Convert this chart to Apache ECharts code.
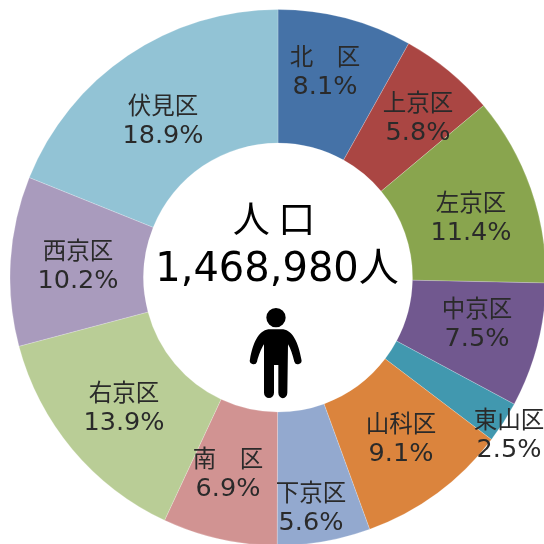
<!DOCTYPE html>
<html><head><meta charset="utf-8">
<style>html,body{margin:0;padding:0;background:#fff}#c{width:544px;height:544px}</style>
<script src="https://cdn.jsdelivr.net/npm/echarts@6/dist/echarts.min.js"></script>
</head><body><div id="c"></div>
<script>
const wards = ['北　区','上京区','左京区','中京区','東山区','山科区','下京区','南　区','右京区','西京区','伏見区'];
const shares = [8.1,5.8,11.4,7.5,2.5,9.1,5.6,6.9,13.9,10.2,18.9];
const colours = ['#4572A7','#AA4643','#89A54E','#71588F','#4198AF','#DB843D','#93A9CF','#D19392','#B9CD96','#A99BBD','#92C3D5'];
const labelCentres = [[325,72],[418,118],[471,218],[477,324],[509,435],[401,439],[311,508],[228,474],[124,408],[78,266],[163,121]];
const centreTitle = '人 口';
const centreTotal = '1,468,980人';
const FONT = '"DejaVu Sans","Noto Sans CJK JP",sans-serif';
const personPath = 'M408 384 A29 29 0 1 1 407.9 384 Z M385 448 L430 448 C458 452 476 490 484 538 A11 11 0 0 1 463 545 C458 525 452 505 444 493 L442 638 A13 16 0 0 1 415 638 L415 555 L402 555 L402 638 A15 16 0 0 1 372 638 L372 493 C364 505 356 525 351 545 A11 11 0 0 1 330 538 C338 490 356 452 385 448 Z';
echarts.graphic.registerShape('person', echarts.graphic.extendPath(personPath, {}));
const chart = echarts.init(document.getElementById('c'));
chart.setOption({
  animation:false,
  backgroundColor:'#fff',
  series:[{
    type:'pie',
    center:[278,277.5],
    radius:[134.5,268],
    startAngle:90,
    clockwise:true,
    silent:true,
    itemStyle:{borderColor:'rgba(255,255,255,0.35)',borderWidth:0.6},
    label:{
      show:true,position:'inside',
      formatter:p=>`{n|${p.name}}\n{v|${p.value.toFixed(1)}%}`,
      rich:{
        n:{fontFamily:'"Noto Sans CJK JP"',fontSize:23.5,lineHeight:30,color:'#2a2a2a',align:'center'},
        v:{fontFamily:'"DejaVu Sans"',fontSize:25.5,lineHeight:31,color:'#2a2a2a',align:'center'}
      }
    },
    labelLine:{show:false},
    labelLayout:p=>({x:labelCentres[p.dataIndex][0],y:labelCentres[p.dataIndex][1],align:'center',verticalAlign:'middle'}),
    data:wards.map((n,i)=>({name:n,value:shares[i],itemStyle:{color:colours[i]}}))
  }],
  graphic:[
    {type:'text',x:274,y:219,style:{text:centreTitle,font:'37px "Noto Sans CJK JP"',fill:'#000',align:'center',verticalAlign:'middle'}},
    {type:'text',x:277,y:271,style:{text:centreTotal,font:'40px '+FONT,fill:'#000',align:'center',verticalAlign:'middle'}},
    {type:'person',x:250-110,y:308.3-128.33,scaleX:1/3,scaleY:1/3,style:{fill:'#000'}}
  ]
});
</script></body></html>
